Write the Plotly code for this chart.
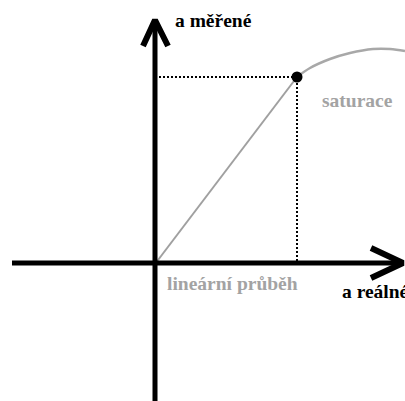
import plotly.graph_objects as go

# diagram units: 1 unit ~ 1 px, origin where the two axes cross
x_range = [-155, 250]
y_range = [-137, 264]

# axes (from, to) and arrow heads
x_axis_x = [-143, 246]
x_axis_y = [1, 1]
x_head_x = [216, 248, 216]
x_head_y = [16, 1, -14]
y_axis_x = [0, 0]
y_axis_y = [-140, 242]
y_head_x = [-12, 0, 13]
y_head_y = [218, 244, 218]

# linear part and saturation
lin_x = [0, 142]
lin_y = [0, 187]
sat_x = [142, 155, 175, 195, 218, 235, 250]
sat_y = [187, 196, 205, 211, 215, 215, 213]
knee_x = [142]
knee_y = [187]

labels = ["a měřené", "saturace", "lineární průběh", "a reálné"]
label_x = [18, 202, 10, 185]
label_y = [244, 164, -19, -27]
label_anchor = ["left", "center", "left", "left"]
label_color = ["black", "#a3a3a3", "#a3a3a3", "black"]

fig = go.Figure()

# dotted guides to the knee
fig.add_trace(go.Scatter(x=[0, knee_x[0], knee_x[0]], y=[knee_y[0], knee_y[0], 0],
                         mode="lines", line=dict(color="black", width=2, dash="2px,2px"),
                         hoverinfo="skip"))
fig.add_trace(go.Scatter(x=lin_x, y=lin_y, mode="lines",
                         line=dict(color="#a0a0a0", width=2), hoverinfo="skip"))
fig.add_trace(go.Scatter(x=sat_x, y=sat_y, mode="lines",
                         line=dict(color="#a8a8a8", width=2.5, shape="spline"), hoverinfo="skip"))

for xs, ys in [(x_axis_x, x_axis_y), (y_axis_x, y_axis_y)]:
    fig.add_trace(go.Scatter(x=xs, y=ys, mode="lines", line=dict(color="black", width=5),
                             hoverinfo="skip"))
for xs, ys in [(x_head_x, x_head_y), (y_head_x, y_head_y)]:
    fig.add_trace(go.Scatter(x=xs, y=ys, mode="lines", line=dict(color="black", width=6),
                             hoverinfo="skip"))

fig.add_trace(go.Scatter(x=knee_x, y=knee_y, mode="markers",
                         marker=dict(color="black", size=11), hoverinfo="skip"))

for t, lx, ly, anc, col in zip(labels, label_x, label_y, label_anchor, label_color):
    fig.add_annotation(x=lx, y=ly, text="<b>" + t + "</b>", showarrow=False,
                       xanchor=anc, yanchor="middle",
                       font=dict(family="Liberation Serif", size=19.5, color=col))

fig.update_xaxes(range=x_range, visible=False)
fig.update_yaxes(range=y_range, visible=False)
fig.update_layout(width=405, height=401, margin=dict(l=0, r=0, t=0, b=0),
                  plot_bgcolor="white", paper_bgcolor="white", showlegend=False)

fig.write_html("out.html", config={"displayModeBar": False},
               post_script="document.body.style.margin='0';")
